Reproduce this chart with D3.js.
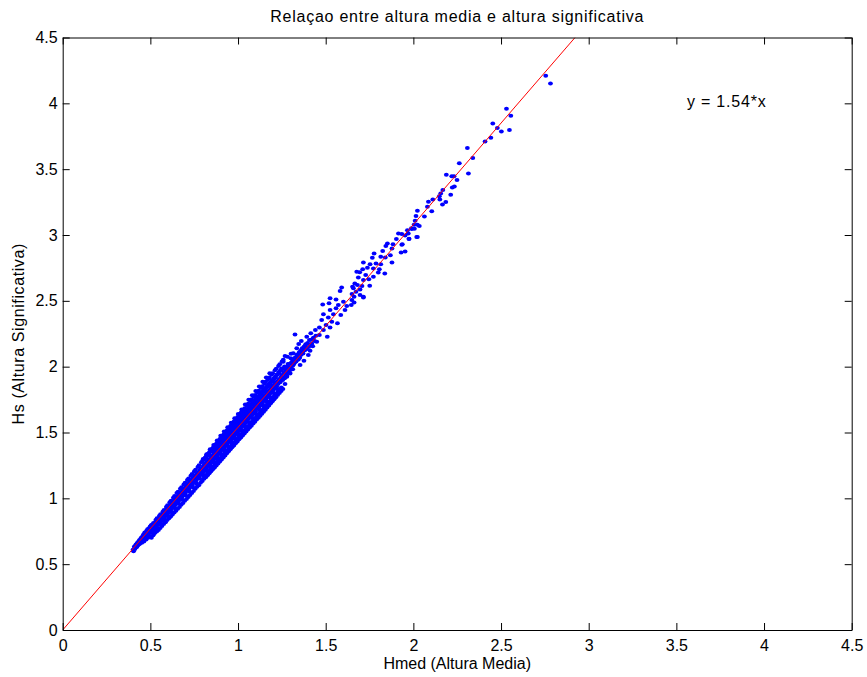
<!DOCTYPE html>
<html>
<head>
<meta charset="utf-8">
<script src="https://cdn.jsdelivr.net/npm/d3@7"></script>
<style>
  html, body { margin: 0; padding: 0; background: #fff; }
  text { font-family: "Liberation Sans", Arial, Helvetica, sans-serif; }
</style>
</head>
<body>
<svg id="chart" width="867" height="677"></svg>
<script>
const titleText = "Relaçao entre altura media e altura significativa";
const xLabel = "Hmed (Altura Media)";
const yLabel = "Hs (Altura Significativa)";
const fitLabel = "y = 1.54*x";
const slope = 1.54;
const xTicks = [0, 0.5, 1, 1.5, 2, 2.5, 3, 3.5, 4, 4.5];
const yTicks = [0, 0.5, 1, 1.5, 2, 2.5, 3, 3.5, 4, 4.5];

// dense band (Hmed, Hs), low part
const bandLow = [
[0.401,0.610],[0.404,0.598],[0.408,0.632],[0.412,0.615],[0.415,0.640],
[0.418,0.650],[0.421,0.628],[0.425,0.660],[0.428,0.641],[0.431,0.668],[0.434,0.650],
[0.437,0.682],[0.440,0.655],[0.443,0.690],[0.446,0.668],
[0.448,0.700],[0.451,0.662],[0.453,0.685],[0.456,0.712],
[0.458,0.690],[0.461,0.725],[0.463,0.672],[0.466,0.705],
[0.468,0.740],[0.470,0.695],[0.473,0.718],[0.476,0.688],
[0.478,0.752],[0.480,0.712],[0.483,0.735],[0.486,0.700],[0.484,0.765],
[0.488,0.728],[0.491,0.770],[0.493,0.745],[0.496,0.712],
[0.498,0.785],[0.500,0.738],[0.503,0.760],[0.506,0.700],[0.504,0.795],
[0.508,0.752],[0.511,0.802],[0.513,0.775],[0.516,0.720],
[0.518,0.812],[0.520,0.765],[0.523,0.790],[0.526,0.738],[0.522,0.735],
[0.528,0.780],[0.531,0.835],[0.533,0.805],[0.536,0.748],
[0.538,0.848],[0.540,0.795],[0.543,0.822],[0.546,0.760],[0.542,0.770],
[0.548,0.812],[0.551,0.865],[0.553,0.838],[0.556,0.775],
[0.558,0.880],[0.560,0.825],[0.563,0.852],[0.566,0.790],[0.562,0.800],
[0.568,0.842],[0.571,0.898],[0.573,0.868],[0.576,0.805],
[0.578,0.912],[0.580,0.855],[0.583,0.885],[0.586,0.818],[0.582,0.830],
[0.588,0.872],[0.591,0.935],[0.593,0.900],[0.596,0.835],
[0.598,0.948],[0.600,0.885],[0.603,0.918],[0.606,0.848],[0.602,0.862],
[0.608,0.905],[0.611,0.970],[0.613,0.930],[0.616,0.862],
[0.618,0.982],[0.620,0.918],[0.623,0.950],[0.626,0.878],[0.622,0.895],
[0.628,0.935],[0.631,1.005],[0.633,0.962],[0.636,0.892],
[0.638,1.018],[0.640,0.948],[0.643,0.985],[0.646,0.905],[0.642,0.925],
[0.648,0.965],[0.651,1.040],[0.653,0.998],[0.656,0.920],
[0.658,1.050],[0.660,0.978],[0.663,1.018],[0.666,0.935],[0.662,0.958],
[0.668,0.995],[0.671,1.072],[0.673,1.030],[0.676,0.952],
[0.678,1.085],[0.680,1.010],[0.683,1.052],[0.686,0.965],[0.682,0.990],
[0.688,1.025],[0.691,1.105],[0.693,1.062],[0.696,0.982],
[0.698,1.118],[0.700,1.040],[0.703,1.085],[0.706,0.995],[0.702,1.022],
[0.708,1.058],[0.711,1.140],[0.713,1.095],[0.716,1.010],
[0.718,1.150],[0.720,1.070],[0.723,1.118],[0.726,1.025],[0.722,1.052],
[0.728,1.088],[0.731,1.172],[0.733,1.128],[0.736,1.040],
[0.738,1.185],[0.740,1.102],[0.743,1.150],[0.746,1.055],[0.742,1.085],
[0.748,1.120],[0.751,1.205],[0.753,1.162],[0.756,1.072],
[0.758,1.218],[0.760,1.135],[0.763,1.182],[0.766,1.088],[0.762,1.115],
[0.768,1.150],[0.771,1.238],[0.773,1.195],[0.776,1.100],
[0.778,1.252],[0.780,1.165],[0.783,1.215],[0.786,1.118],[0.782,1.148],
[0.788,1.182],[0.791,1.275],[0.793,1.228],[0.796,1.132]
];
// dense band, middle part
const bandMid = [
[0.798,1.285],[0.800,1.198],[0.803,1.248],[0.806,1.148],[0.802,1.178],[0.801,1.298],
[0.808,1.212],[0.811,1.305],[0.813,1.262],[0.816,1.160],[0.812,1.232],
[0.818,1.318],[0.820,1.228],[0.823,1.282],[0.826,1.175],[0.822,1.208],[0.821,1.335],
[0.828,1.245],[0.831,1.340],[0.833,1.295],[0.836,1.190],[0.832,1.268],
[0.838,1.352],[0.840,1.258],[0.843,1.315],[0.846,1.205],[0.842,1.240],[0.841,1.372],
[0.848,1.275],[0.851,1.372],[0.853,1.328],[0.856,1.220],[0.852,1.300],
[0.858,1.385],[0.860,1.290],[0.863,1.348],[0.866,1.235],[0.862,1.272],[0.861,1.405],
[0.868,1.305],[0.871,1.405],[0.873,1.362],[0.876,1.250],[0.872,1.330],
[0.878,1.418],[0.880,1.320],[0.883,1.380],[0.886,1.265],[0.882,1.302],[0.881,1.440],
[0.888,1.338],[0.891,1.440],[0.893,1.395],[0.896,1.280],[0.892,1.362],
[0.898,1.452],[0.900,1.352],[0.903,1.412],[0.906,1.295],[0.902,1.335],[0.901,1.475],
[0.908,1.368],[0.911,1.472],[0.913,1.428],[0.916,1.310],[0.912,1.395],
[0.918,1.485],[0.920,1.382],[0.923,1.445],[0.926,1.325],[0.922,1.365],[0.921,1.508],
[0.928,1.400],[0.931,1.505],[0.933,1.460],[0.936,1.342],[0.932,1.425],
[0.938,1.518],[0.940,1.415],[0.943,1.478],[0.946,1.358],[0.942,1.395],[0.941,1.540],
[0.948,1.430],[0.951,1.538],[0.953,1.492],[0.956,1.372],[0.952,1.458],
[0.958,1.552],[0.960,1.445],[0.963,1.512],[0.966,1.388],[0.962,1.425],[0.961,1.575],
[0.968,1.462],[0.971,1.572],[0.973,1.525],[0.976,1.402],[0.972,1.490],
[0.978,1.585],[0.980,1.478],[0.983,1.545],[0.986,1.418],[0.982,1.455],[0.981,1.608],
[0.988,1.492],[0.991,1.605],[0.993,1.558],[0.996,1.432],[0.992,1.522],
[0.998,1.618],[1.000,1.508],[1.003,1.578],[1.006,1.448],[1.002,1.485],[1.001,1.640],
[1.008,1.525],[1.011,1.638],[1.013,1.592],[1.016,1.462],[1.012,1.555],
[1.018,1.652],[1.020,1.540],[1.023,1.612],[1.026,1.478],[1.022,1.515],[1.021,1.675],
[1.028,1.555],[1.031,1.672],[1.033,1.625],[1.036,1.492],[1.032,1.588],
[1.038,1.685],[1.040,1.570],[1.043,1.645],[1.046,1.508],[1.042,1.548],[1.041,1.712],
[1.048,1.588],[1.051,1.705],[1.053,1.658],[1.056,1.522],[1.052,1.620],
[1.058,1.718],[1.060,1.602],[1.063,1.678],[1.066,1.538],[1.062,1.578],[1.061,1.748],
[1.068,1.618],[1.071,1.740],[1.073,1.690],[1.076,1.552],[1.072,1.652],
[1.078,1.752],[1.080,1.632],[1.083,1.710],[1.086,1.568],[1.082,1.610],[1.081,1.782],
[1.088,1.650],[1.091,1.772],[1.093,1.722],[1.096,1.582],[1.092,1.685],
[1.098,1.785],[1.100,1.662],[1.103,1.742],[1.106,1.598],[1.102,1.640],[1.101,1.815],
[1.108,1.680],[1.111,1.805],[1.113,1.755],[1.116,1.612],[1.112,1.718],
[1.118,1.818],[1.120,1.695],[1.123,1.775],[1.126,1.628],[1.122,1.672],[1.121,1.850],
[1.128,1.712],[1.131,1.838],[1.133,1.788],[1.136,1.642],[1.132,1.750],
[1.138,1.852],[1.140,1.725],[1.143,1.808],[1.146,1.658],[1.142,1.705],[1.141,1.885],
[1.148,1.742],[1.151,1.870],[1.153,1.820],[1.156,1.672],[1.152,1.782],
[1.158,1.885],[1.160,1.758],[1.163,1.840],[1.166,1.690],[1.162,1.735],[1.161,1.918],
[1.168,1.772],[1.171,1.905],[1.173,1.852],[1.176,1.705],[1.172,1.815],
[1.178,1.918],[1.180,1.788],[1.183,1.872],[1.186,1.722],[1.182,1.768],[1.181,1.950],
[1.188,1.805],[1.191,1.938],[1.193,1.885],[1.196,1.738],[1.192,1.848],
[1.198,1.950],[1.200,1.820],[1.203,1.905],[1.206,1.752],[1.202,1.800],
[1.208,1.838],[1.211,1.972],[1.213,1.918],[1.216,1.768],[1.212,1.880],
[1.218,1.985],[1.220,1.850],[1.223,1.938],[1.226,1.785],[1.222,1.832],
[1.228,1.868],[1.231,2.005],[1.233,1.952],[1.236,1.800],
[1.238,2.018],[1.240,1.882],[1.243,1.970],[1.246,1.815],
[1.248,1.898],[1.251,2.040],[1.253,1.985],[1.256,1.830],
[1.258,2.052],[1.262,1.915],[1.265,2.002],
[1.275,1.935],[1.282,2.075],[1.285,2.020],
[1.295,1.955],[1.302,2.098]
];
// points lying right on the fitted line inside the band
const bandCore = [
[0.455,0.705],[0.451,0.683],[0.465,0.720],[0.461,0.700],[0.475,0.736],[0.471,0.716],
[0.485,0.751],[0.481,0.731],[0.495,0.767],[0.491,0.747],[0.505,0.782],[0.501,0.762],
[0.515,0.797],[0.511,0.777],[0.525,0.813],[0.521,0.793],[0.535,0.828],[0.531,0.808],
[0.545,0.844],[0.541,0.824],[0.555,0.859],[0.551,0.839],[0.565,0.874],[0.561,0.854],
[0.575,0.890],[0.571,0.870],[0.585,0.905],[0.581,0.885],[0.595,0.921],[0.591,0.901],
[0.605,0.936],[0.601,0.916],[0.615,0.951],[0.611,0.931],[0.625,0.967],[0.621,0.947],
[0.635,0.982],[0.631,0.962],[0.645,0.998],[0.641,0.978],[0.655,1.013],[0.651,0.993],
[0.665,1.028],[0.661,1.008],[0.675,1.044],[0.671,1.024],[0.685,1.059],[0.681,1.039],
[0.695,1.075],[0.691,1.055],[0.705,1.090],[0.701,1.070],[0.715,1.105],[0.711,1.085],
[0.725,1.121],[0.721,1.101],[0.735,1.136],[0.731,1.116],[0.745,1.152],[0.741,1.132],
[0.755,1.167],[0.751,1.147],[0.765,1.182],[0.761,1.162],[0.775,1.198],[0.771,1.178],
[0.785,1.213],[0.781,1.193],[0.795,1.229],[0.791,1.209],[0.805,1.244],[0.801,1.224],
[0.815,1.259],[0.811,1.239],[0.825,1.275],[0.821,1.255],[0.835,1.290],[0.831,1.270],
[0.845,1.306],[0.841,1.286],[0.855,1.321],[0.851,1.301],[0.865,1.336],[0.861,1.316],
[0.875,1.352],[0.871,1.332],[0.885,1.367],[0.881,1.347],[0.895,1.383],[0.891,1.363],
[0.905,1.398],[0.901,1.378],[0.915,1.413],[0.911,1.393],[0.925,1.429],[0.921,1.409],
[0.935,1.444],[0.931,1.424],[0.945,1.460],[0.941,1.440],[0.955,1.475],[0.951,1.455],
[0.965,1.490],[0.961,1.470],[0.975,1.506],[0.971,1.486],[0.985,1.521],[0.981,1.501],
[0.995,1.537],[0.991,1.517],[1.005,1.552],[1.001,1.532],[1.015,1.567],[1.011,1.547],
[1.025,1.583],[1.021,1.563],[1.035,1.598],[1.031,1.578],[1.045,1.614],[1.041,1.594],
[1.055,1.629],[1.051,1.609],[1.065,1.644],[1.061,1.624],[1.075,1.660],[1.071,1.640],
[1.085,1.675],[1.081,1.655],[1.095,1.691],[1.091,1.671],[1.105,1.706],[1.101,1.686],
[1.115,1.721],[1.111,1.701],[1.125,1.737],[1.121,1.717],[1.135,1.752],[1.131,1.732],
[1.145,1.768],[1.141,1.748],[1.155,1.783],[1.151,1.763],[1.165,1.798],[1.161,1.778],
[1.175,1.814],[1.171,1.794],[1.185,1.829],[1.181,1.809],[1.195,1.845],[1.191,1.825],
[1.205,1.860],[1.201,1.840],[1.215,1.875],[1.211,1.855],[1.225,1.891],[1.221,1.871],
[1.235,1.906],[1.231,1.886],[1.245,1.922],[1.241,1.902]
];
// extra points filling the wider part of the band
const bandWide = [
[0.803,1.294],[0.807,1.163],[0.813,1.309],[0.817,1.178],[0.823,1.325],[0.827,1.194],
[0.833,1.340],[0.837,1.209],[0.843,1.356],[0.847,1.225],[0.853,1.371],[0.857,1.240],
[0.863,1.386],[0.867,1.255],[0.873,1.402],[0.877,1.271],[0.883,1.417],[0.887,1.286],
[0.893,1.433],[0.897,1.302],[0.903,1.448],[0.907,1.317],[0.913,1.463],[0.917,1.332],
[0.923,1.479],[0.927,1.348],[0.933,1.494],[0.937,1.363],[0.943,1.510],[0.947,1.379],
[0.953,1.525],[0.957,1.394],[0.963,1.540],[0.967,1.409],[0.973,1.556],[0.977,1.425],
[0.983,1.571],[0.987,1.440],[0.993,1.587],[0.997,1.456],[1.003,1.602],[1.007,1.471],
[1.013,1.617],[1.017,1.486],[1.023,1.633],[1.027,1.502],[1.033,1.648],[1.037,1.517],
[1.043,1.664],[1.047,1.533],[1.053,1.679],[1.057,1.548],[1.063,1.694],[1.067,1.563],
[1.073,1.710],[1.077,1.579],[1.083,1.725],[1.087,1.594],[1.093,1.741],[1.097,1.610],
[1.103,1.756],[1.107,1.625],[1.113,1.771],[1.117,1.640],[1.123,1.787],[1.127,1.656],
[1.133,1.802],[1.137,1.671],[1.143,1.818],[1.147,1.687],[1.153,1.833],[1.157,1.702],
[1.163,1.848],[1.167,1.717],[1.173,1.864],[1.177,1.733],[1.183,1.879],[1.187,1.748],
[1.193,1.895],[1.197,1.764],[1.203,1.910],[1.207,1.779],[1.213,1.925],[1.217,1.794],
[1.223,1.941],[1.227,1.810],[1.233,1.956],[1.237,1.825],[1.243,1.972],[1.247,1.841]
];
// dense stretch between 1.25 and 1.45
const bandUpper = [
[1.262,1.955],[1.266,1.912],[1.271,1.985],[1.274,1.950],[1.279,1.930],[1.283,1.995],
[1.287,1.968],[1.291,2.020],[1.294,1.978],[1.298,1.995],[1.303,2.030],[1.306,1.985],
[1.311,2.045],[1.314,2.010],[1.318,2.058],[1.322,2.030],[1.327,2.072],[1.331,2.040],
[1.336,2.090],[1.340,2.055],[1.344,2.075],[1.349,2.110],[1.352,2.068],[1.357,2.120],
[1.362,2.098],[1.366,2.140],[1.371,2.100],[1.376,2.152],[1.381,2.125],[1.386,2.170],
[1.392,2.135],[1.397,2.180],[1.403,2.150],[1.409,2.165],[1.416,2.205],[1.421,2.175],
[1.428,2.212],[1.436,2.195],[1.444,2.235]
];
// sparser upper part, individual points
const bandHigh = [
[1.240,1.828],[1.268,1.868],[1.255,1.898],[1.278,1.923],[1.249,1.936],[1.297,1.949],[1.268,1.961],
[1.312,1.980],[1.249,1.987],[1.281,1.999],[1.354,2.012],[1.319,2.025],[1.258,2.037],[1.376,2.045],
[1.344,2.055],[1.301,2.063],[1.268,2.081],[1.401,2.088],[1.358,2.088],[1.315,2.101],[1.411,2.121],
[1.369,2.126],[1.335,2.139],[1.426,2.156],[1.382,2.156],[1.346,2.172],[1.449,2.189],[1.407,2.202],
[1.361,2.194],[1.430,2.220],[1.392,2.227],[1.325,2.245],[1.509,2.227],[1.464,2.240],[1.415,2.253],
[1.487,2.278],[1.441,2.278],[1.525,2.298],[1.464,2.298],[1.502,2.316],[1.567,2.329],[1.535,2.341],
[1.477,2.354],[1.515,2.374],[1.586,2.392],[1.544,2.399],[1.487,2.399],[1.525,2.430],[1.610,2.430],
[1.559,2.443],[1.620,2.460],[1.572,2.468],[1.519,2.481],[1.483,2.473],[1.662,2.488],[1.601,2.493],
[1.715,2.531],[1.559,2.511],[1.525,2.519],[1.646,2.468],[1.649,2.506],[1.662,2.531],[1.715,2.526],
[1.696,2.544],[1.650,2.551],[1.673,2.569],[1.582,2.574],[1.696,2.587],[1.658,2.595],[1.591,2.602],
[1.653,2.607],[1.707,2.612],[1.751,2.614],[1.681,2.620],[1.666,2.632],[1.715,2.658],[1.746,2.663],
[1.686,2.678],[1.772,2.683],[1.728,2.696],[1.837,2.708],[1.800,2.716],[1.694,2.718],[1.677,2.721],
[1.711,2.739],[1.806,2.739],[1.772,2.746],[1.738,2.751],[1.753,2.777],[1.814,2.777],[1.787,2.784],
[1.715,2.792],[1.878,2.792],[1.766,2.827],[1.840,2.830],[1.814,2.834],[1.869,2.847],[1.776,2.860],
[1.930,2.868],[1.953,2.875],[1.825,2.878],[1.878,2.898],[1.843,2.916],[1.934,2.926],[1.884,2.929],
[1.937,2.929],[1.852,2.936],[1.903,2.969],[1.975,2.969],[1.975,2.971],[2.019,2.984],[2.023,2.984],
[1.953,2.997],[1.934,3.007],[1.915,3.012],[1.971,3.012],[1.966,3.037],[1.991,3.045],[2.006,3.047],
[1.989,3.052],[2.034,3.068],[2.023,3.078],[2.004,3.078],[2.010,3.108],[2.015,3.144],[2.063,3.141],
[2.105,3.181],[2.023,3.184],[2.080,3.214],[2.166,3.232],[2.185,3.250],[2.086,3.252],[2.111,3.270],
[2.151,3.270],[2.148,3.295],[2.213,3.305],[2.156,3.316],[2.168,3.341],[2.222,3.361],[2.234,3.369],
[2.249,3.417],[2.232,3.447],[2.219,3.447],[2.188,3.457],[2.314,3.468],[2.262,3.544],[2.339,3.584],
[2.308,3.660],[2.409,3.711],[2.442,3.738],[2.502,3.787],[2.548,3.797],[2.479,3.812],[2.453,3.847],
[2.556,3.905],[2.531,3.958],[2.755,4.209],[2.782,4.151]
];

const svg = d3.select("#chart");
const W = 867, H = 677;
const mLeft = 62.7, mRight = 851.7, mTop = 37.5, mBottom = 630;

const x = d3.scaleLinear().domain([0, 4.5]).range([mLeft, mRight]);
const y = d3.scaleLinear().domain([0, 4.5]).range([mBottom, mTop]);

svg.append("rect").attr("width", W).attr("height", H).attr("fill", "#fff");

svg.append("defs").append("clipPath").attr("id", "plotclip")
  .append("rect").attr("x", mLeft).attr("y", mTop)
  .attr("width", mRight - mLeft).attr("height", mBottom - mTop);

const pts = bandLow.concat(bandMid, bandCore, bandWide, bandUpper, bandHigh);
svg.append("g").attr("clip-path", "url(#plotclip)")
  .selectAll("ellipse").data(pts).join("ellipse")
  .attr("cx", d => x(d[0])).attr("cy", d => y(d[1]))
  .attr("rx", 2.4).attr("ry", 2.0)
  .attr("fill", "#0000ff");

svg.append("line").attr("clip-path", "url(#plotclip)")
  .attr("x1", x(0)).attr("y1", y(0))
  .attr("x2", x(4.5 / slope)).attr("y2", y(4.5))
  .attr("stroke", "#ff0000").attr("stroke-width", 1);

const fmt = d => d3.format("")(d);
function styleAxis(g) {
  g.selectAll(".domain").attr("stroke", "#000").attr("stroke-width", 1);
  g.selectAll(".tick line").attr("stroke", "#000");
  g.selectAll("text").attr("font-size", 16).attr("fill", "#000")
    .attr("font-family", "'Liberation Sans', Arial, sans-serif");
}
svg.append("g").attr("transform", `translate(0,${mBottom})`)
  .call(d3.axisBottom(x).tickValues(xTicks).tickFormat(fmt).tickSize(-7).tickSizeOuter(0).tickPadding(10))
  .call(styleAxis);
svg.append("g").attr("transform", `translate(0,${mTop})`)
  .call(d3.axisTop(x).tickValues(xTicks).tickFormat("").tickSize(-7).tickSizeOuter(0))
  .call(styleAxis);
svg.append("g").attr("transform", `translate(${mLeft},0)`)
  .call(d3.axisLeft(y).tickValues(yTicks).tickFormat(fmt).tickSize(-7).tickSizeOuter(0).tickPadding(5))
  .call(styleAxis);
svg.append("g").attr("transform", `translate(${mRight},0)`)
  .call(d3.axisRight(y).tickValues(yTicks).tickFormat("").tickSize(-7).tickSizeOuter(0))
  .call(styleAxis);

svg.append("text").attr("x", (mLeft + mRight) / 2).attr("y", 22)
  .attr("text-anchor", "middle").attr("font-size", 16).attr("letter-spacing", 0.75).text(titleText);
svg.append("text").attr("x", (mLeft + mRight) / 2).attr("y", 669)
  .attr("text-anchor", "middle").attr("font-size", 16).text(xLabel);
svg.append("text").attr("transform", `translate(24,${(mTop + mBottom) / 2}) rotate(-90)`)
  .attr("text-anchor", "middle").attr("font-size", 16).attr("letter-spacing", 0.6).text(yLabel);
svg.append("text").attr("x", x(3.56)).attr("y", y(3.97))
  .attr("font-size", 16).attr("letter-spacing", 0.8).text(fitLabel);
</script>
</body>
</html>
